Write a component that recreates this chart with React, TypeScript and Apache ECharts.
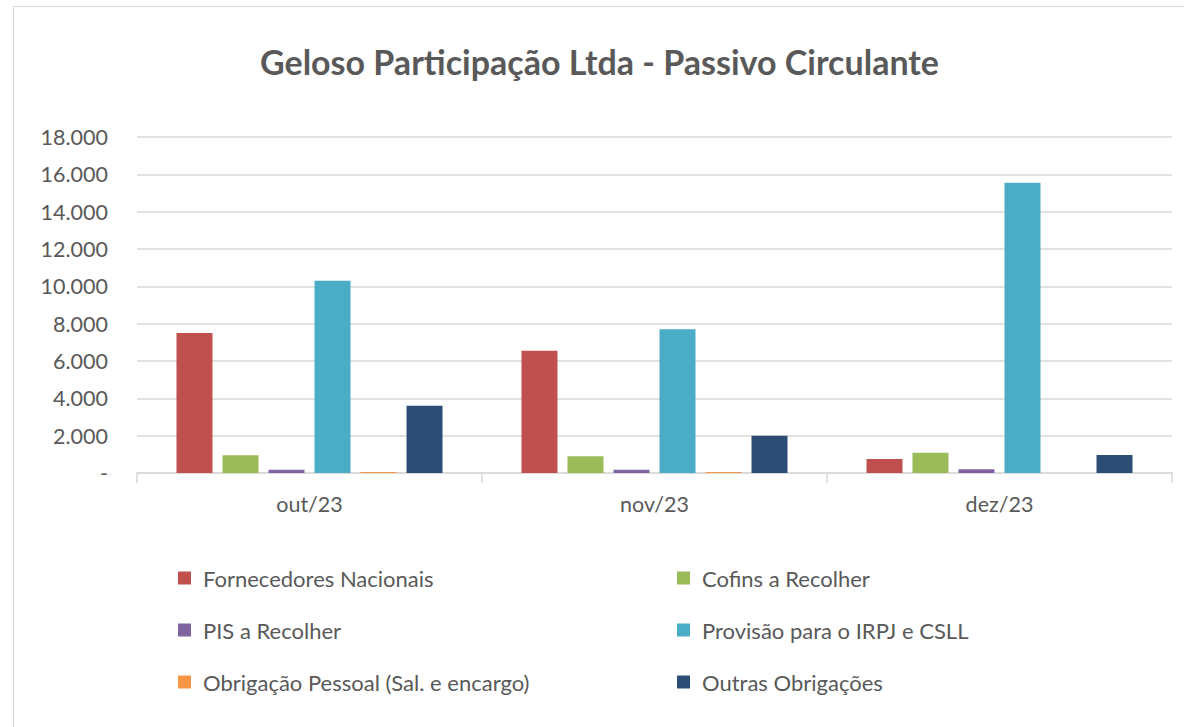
import React, { useEffect, useRef } from "react";
import * as echarts from "echarts";

const categories = ["out/23", "nov/23", "dez/23"];
const seriesNames = [
  "Fornecedores Nacionais",
  "Cofins a Recolher",
  "PIS a Recolher",
  "Provisão para o IRPJ e CSLL",
  "Obrigação Pessoal (Sal. e encargo)",
  "Outras Obrigações",
];
const fornecedores = [7500, 6550, 750];
const cofins = [950, 900, 1080];
const pis = [170, 170, 200];
const provisao = [10300, 7700, 15550];
const obrigacaoPessoal = [60, 60, 0];
const outras = [3600, 2000, 970];
const colors = ["#C0504D", "#9BBB59", "#8064A2", "#4BACC6", "#F79646", "#2C4D75"];
const legendLeftCol = [seriesNames[0], seriesNames[2], seriesNames[4]];
const legendRightCol = [seriesNames[1], seriesNames[3], seriesNames[5]];

const FONT = "Lato, 'Open Sans', sans-serif";
const TXT = "#595959";

function fmt(v: number): string {
  if (v === 0) return "-";
  return String(Math.round(v)).replace(/\B(?=(\d{3})+(?!\d))/g, ".");
}

export default function App() {
  const ref = useRef<HTMLDivElement>(null);
  useEffect(() => {
    if (!ref.current) return;
    const chart = echarts.init(ref.current, null, { renderer: "svg" });
    const values = [fornecedores, cofins, pis, provisao, obrigacaoPessoal, outras];
    const legendCommon = {
      orient: "vertical" as const,
      icon: "rect",
      itemWidth: 13,
      itemHeight: 13,
      itemGap: 30,
      padding: 0,
      selectedMode: false,
      textStyle: { color: TXT, fontSize: 22, fontFamily: FONT, lineHeight: 22, padding: [0, 0, 0, 7] },
    };
    chart.setOption({
      animation: false,
      backgroundColor: "#ffffff",
      textStyle: { fontFamily: FONT },
      title: {
        text: "Geloso Participação Ltda - Passivo Circulante",
        left: 260,
        top: 44,
        padding: 0,
        textStyle: { color: TXT, fontSize: 34, fontWeight: "bold", fontFamily: FONT },
      },
      graphic: [
        {
          type: "rect",
          shape: { x: 13.5, y: 6.5, width: 1200, height: 760 },
          style: { fill: "none", stroke: "#D9D9D9", lineWidth: 1 },
          silent: true,
        },
      ],
      legend: [
        { ...legendCommon, left: 178, top: 567, data: legendLeftCol },
        { ...legendCommon, left: 677, top: 567, data: legendRightCol },
      ],
      grid: { left: 137, right: 12, top: 137, bottom: 254, containLabel: false },
      xAxis: {
        type: "category",
        data: categories,
        axisLine: { lineStyle: { color: "#D9D9D9", width: 1.5 } },
        axisTick: { show: true, length: 10, lineStyle: { color: "#D9D9D9", width: 1.5 } },
        axisLabel: { color: TXT, fontSize: 21.5, fontFamily: FONT, margin: 20 },
      },
      yAxis: {
        type: "value",
        min: 0,
        max: 18000,
        interval: 2000,
        axisLine: { show: false },
        axisTick: { show: false },
        splitLine: { lineStyle: { color: "#D9D9D9", width: 1.5 } },
        axisLabel: { color: TXT, fontSize: 21.5, fontFamily: FONT, margin: 29, formatter: (v: number) => fmt(v) },
      },
      series: seriesNames.map((name, i) => ({
        name,
        type: "bar",
        data: values[i],
        barWidth: 36,
        barGap: "27.8%",
        itemStyle: { color: colors[i] },
      })),
    });
    return () => chart.dispose();
  }, []);
  return (
    <div
      ref={ref}
      style={{ position: "fixed", left: 0, top: 0, width: 1184, height: 727 }}
    />
  );
}
